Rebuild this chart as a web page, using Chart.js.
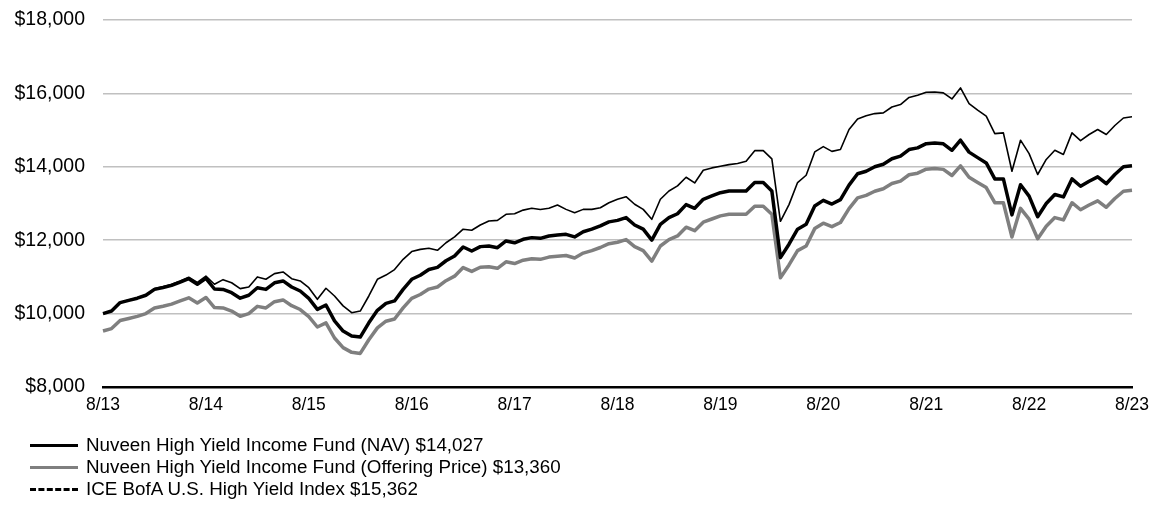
<!DOCTYPE html>
<html>
<head>
<meta charset="utf-8">
<script src="https://cdn.jsdelivr.net/npm/chart.js@4/dist/chart.umd.min.js"></script>
<style>
    html, body { margin: 0; padding: 0; background: #fff; }
    #wrap { position: relative; width: 1152px; height: 513px; }
    #legend {
        position: absolute; left: 30px; top: 434px;
        font-family: "Liberation Sans", Arial, sans-serif; font-size: 18.8px; color: #000;
    }
    .row { display: flex; align-items: center; height: 22px; }
    .swatch { width: 48px; height: 0; margin-right: 8px; }
</style>
</head>
<body>
<div id="wrap">
    <canvas id="growthChart" width="1152" height="513"></canvas>
    <div id="legend"></div>
</div>
<script>
// month ends 8/13 .. 8/23
const tickLabels = ['8/13', '8/14', '8/15', '8/16', '8/17', '8/18', '8/19', '8/20', '8/21', '8/22', '8/23'];

const navValues = [
    10000, 10070, 10300, 10360, 10420, 10500, 10660, 10710, 10770, 10860, 10950, 10800,
    10960, 10670, 10660, 10570, 10420, 10500, 10705, 10660, 10840, 10890, 10725, 10615,
    10415, 10115, 10235, 9800, 9525, 9390, 9360, 9750, 10090, 10280, 10345, 10660,
    10935, 11045, 11200, 11260, 11440, 11570, 11815, 11705, 11825, 11840, 11795, 11980,
    11930, 12025, 12070, 12050, 12115, 12140, 12160, 12090, 12230, 12300, 12390, 12500,
    12540, 12615, 12415, 12300, 12000, 12433, 12615, 12720, 12970, 12870, 13115, 13205,
    13295, 13340, 13340, 13340, 13570, 13570, 13340, 11525, 11890, 12300, 12433, 12930,
    13085, 12985, 13105, 13500, 13810, 13880, 14000, 14070, 14220, 14290, 14470, 14515,
    14630, 14650, 14625, 14450, 14725, 14400, 14250, 14105, 13670, 13670, 12690, 13510,
    13200, 12640, 13000, 13245, 13180, 13670, 13470, 13605, 13725, 13540, 13790, 14000,
    14027
];

const offeringValues = [
    9525, 9592, 9811, 9868, 9925, 10001, 10154, 10201, 10258, 10344, 10430, 10287,
    10439, 10163, 10154, 10068, 9925, 10001, 10197, 10154, 10325, 10373, 10216, 10111,
    9920, 9635, 9749, 9335, 9073, 8944, 8915, 9287, 9611, 9792, 9854, 10154,
    10416, 10520, 10668, 10725, 10897, 11020, 11254, 11149, 11263, 11278, 11235, 11411,
    11363, 11454, 11497, 11478, 11540, 11563, 11582, 11516, 11649, 11716, 11801, 11906,
    11944, 12016, 11825, 11716, 11430, 11842, 12016, 12116, 12354, 12259, 12492, 12578,
    12663, 12706, 12706, 12706, 12925, 12925, 12706, 10978, 11325, 11716, 11842, 12316,
    12463, 12368, 12483, 12859, 13154, 13221, 13335, 13402, 13545, 13611, 13783, 13826,
    13935, 13954, 13930, 13764, 14026, 13716, 13573, 13435, 13021, 13021, 12087, 12868,
    12573, 12040, 12383, 12616, 12554, 13021, 12830, 12959, 13073, 12897, 13135, 13335,
    13360
];

const indexValues = [
    10000, 10070, 10300, 10370, 10430, 10510, 10680, 10730, 10800, 10890, 10990, 10850,
    11020, 10800, 10925, 10840, 10680, 10725, 11000, 10935, 11090, 11135, 10950, 10890,
    10705, 10390, 10690, 10480, 10210, 10025, 10070, 10480, 10935, 11050, 11200, 11480,
    11690, 11750, 11780, 11725, 11930, 12090, 12300, 12270, 12415, 12525, 12540, 12705,
    12720, 12820, 12870, 12835, 12870, 12960, 12840, 12750, 12840, 12840, 12885, 13020,
    13115, 13185, 12980, 12840, 12570, 13115, 13340, 13480, 13715, 13560, 13905, 13970,
    14015, 14060, 14090, 14150, 14440, 14440, 14215, 12515, 12970, 13570, 13770, 14405,
    14550, 14420, 14470, 15015, 15305, 15390, 15450, 15470, 15630, 15695, 15890, 15950,
    16030, 16040, 16015, 15850, 16150, 15720, 15545, 15380, 14905, 14925, 13880, 14725,
    14360, 13790, 14200, 14450, 14335, 14925, 14715, 14880, 15015, 14880, 15125, 15330,
    15362
];

const seriesNames = [
    'Nuveen High Yield Income Fund (NAV) $14,027',
    'Nuveen High Yield Income Fund (Offering Price) $13,360',
    'ICE BofA U.S. High Yield Index $15,362'
];

// one category per month, only every 12th gets a visible tick
const months = [];
for (let i = 0; i < navValues.length; i++) {
    months.push(i % 12 === 0 ? tickLabels[i / 12] : '');
}

const fontFamily = '"Liberation Sans", Arial, sans-serif';

const ctx = document.getElementById('growthChart').getContext('2d');
new Chart(ctx, {
    type: 'line',
    data: {
        labels: months,
        datasets: [
            {
                label: seriesNames[0],
                data: navValues,
                borderColor: '#000000',
                borderWidth: 3.5,
                order: 2
            },
            {
                label: seriesNames[1],
                data: offeringValues,
                borderColor: '#7f7f7f',
                borderWidth: 3.5,
                order: 3
            },
            {
                label: seriesNames[2],
                data: indexValues,
                borderColor: '#000000',
                borderWidth: 1.6,
                order: 1
            }
        ]
    },
    options: {
        responsive: false,
        animation: false,
        elements: {
            point: { radius: 0 },
            line: { tension: 0, borderJoinStyle: 'round' }
        },
        layout: {
            padding: { left: 0, right: 20, top: 20, bottom: 96 }
        },
        plugins: {
            legend: { display: false },
            tooltip: { enabled: false }
        },
        scales: {
            x: {
                offset: false,
                grid: { display: false, drawTicks: false },
                border: { display: true, color: '#000000', width: 2.5 },
                ticks: {
                    autoSkip: false,
                    maxRotation: 0,
                    padding: 8,
                    color: '#000000',
                    font: { family: fontFamily, size: 17.5 }
                },
                afterFit: function(scale) {
                    scale.height = 30;
                    // let the last tick label hang into the right padding
                    scale.paddingLeft = 0;
                    scale.paddingRight = 0;
                }
            },
            y: {
                min: 8000,
                max: 18000,
                grid: { color: '#c0c0c0', lineWidth: 1.5, drawTicks: false },
                border: { display: false },
                ticks: {
                    stepSize: 2000,
                    padding: 18,
                    color: '#000000',
                    font: { family: fontFamily, size: 19.5 },
                    callback: function(value) { return '$' + value.toLocaleString('en-US'); }
                },
                afterFit: function(scale) {
                    scale.width = 103;
                    scale.paddingTop = 0;
                    scale.paddingBottom = 0;
                }
            }
        }
    }
});

// legend drawn as html rows under the chart
const legendStyles = [
    'border-top: 3.5px solid #000000;',
    'border-top: 3.5px solid #7f7f7f;',
    'border-top: 3px dashed #000000;'
];
const legend = document.getElementById('legend');
seriesNames.forEach(function(name, i) {
    const row = document.createElement('div');
    row.className = 'row';
    const swatch = document.createElement('span');
    swatch.className = 'swatch';
    swatch.style.cssText = legendStyles[i];
    const text = document.createElement('span');
    text.textContent = name;
    row.appendChild(swatch);
    row.appendChild(text);
    legend.appendChild(row);
});
</script>
</body>
</html>
